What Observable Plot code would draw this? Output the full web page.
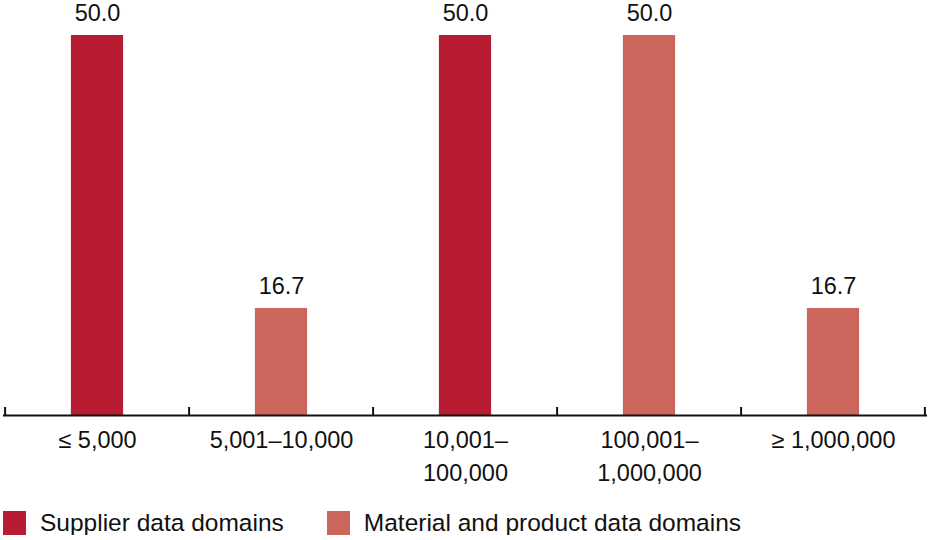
<!DOCTYPE html>
<html>
<head>
<meta charset="utf-8">
<script src="https://cdn.jsdelivr.net/npm/d3@7"></script>
<script src="https://cdn.jsdelivr.net/npm/@observablehq/plot@0.6"></script>
<style>
  body { margin: 0; background: #fff; font-family: "Liberation Sans", Arial, sans-serif; }
  #chart svg { display: block; }
  .legend { display: flex; align-items: flex-start; padding-top: 21px; margin-left: 3px; font-size: 24.5px; line-height: 24px; color: #111; }
  .legend .item { display: flex; align-items: center; margin-right: 43px; }
  .legend .sw { width: 23px; height: 24px; margin-right: 14px; }
</style>
</head>
<body>
<div id="chart"></div>
<script>
const categories = ["≤ 5,000", "5,001–10,000", "10,001–\n100,000", "100,001–\n1,000,000", "≥ 1,000,000"];
const values = [50.0, 16.7, 50.0, 50.0, 16.7];
const seriesOf = ["Supplier data domains", "Material and product data domains", "Supplier data domains", "Material and product data domains", "Material and product data domains"];
const seriesNames = ["Supplier data domains", "Material and product data domains"];
const seriesColors = ["#B81C32", "#CC655B"];

const data = categories.map((c, i) => ({category: c, value: values[i], series: seriesOf[i]}));

const width = 929, height = 490;
const marginLeft = 3, marginRight = 2, marginTop = 35, marginBottom = 75;
const yMin = 3.65, yMax = 50;
const pxPerUnit = (height - marginTop - marginBottom) / (yMax - yMin);
const bw = (width - marginLeft - marginRight) / categories.length;
const barW = 53;
const fs = 23.5;

const chart = Plot.plot({
  width, height, marginLeft, marginRight, marginTop, marginBottom,
  style: {fontFamily: "Liberation Sans, Arial, sans-serif", fontSize: fs + "px", color: "#111"},
  x: {domain: categories, padding: 0, label: null},
  y: {domain: [yMin, yMax], axis: null},
  color: {domain: seriesNames, range: seriesColors},
  marks: [
    Plot.barY(data, {x: "category", y1: yMin, y2: "value", fill: "series", insetLeft: (bw - barW) / 2, insetRight: (bw - barW) / 2}),
    Plot.text(data, {x: "category", y: "value", text: d => d.value.toFixed(1), dy: -22, fontSize: fs, fill: "#111"}),
    Plot.ruleY([yMin], {stroke: "#111", strokeWidth: 2}),
    Plot.ruleX(categories, {x: d => d, dx: -bw / 2, y1: yMin, y2: yMin + 8 / pxPerUnit, stroke: "#111", strokeWidth: 2}),
    Plot.ruleX(categories.slice(-1), {x: d => d, dx: bw / 2 - 1, y1: yMin, y2: yMin + 8 / pxPerUnit, stroke: "#111", strokeWidth: 2}),
    Plot.axisX({tickSize: 0, tickPadding: 10, fontSize: fs, lineHeight: 1.37, fill: "#111", label: null})
  ]
});
document.getElementById("chart").appendChild(chart);

const legend = document.createElement("div");
legend.className = "legend";
seriesNames.forEach((s, i) => {
  const item = document.createElement("div");
  item.className = "item";
  const sw = document.createElement("div");
  sw.className = "sw";
  sw.style.background = seriesColors[i];
  const t = document.createElement("span");
  t.textContent = s;
  item.appendChild(sw); item.appendChild(t);
  legend.appendChild(item);
});
document.body.appendChild(legend);
</script>
</body>
</html>
